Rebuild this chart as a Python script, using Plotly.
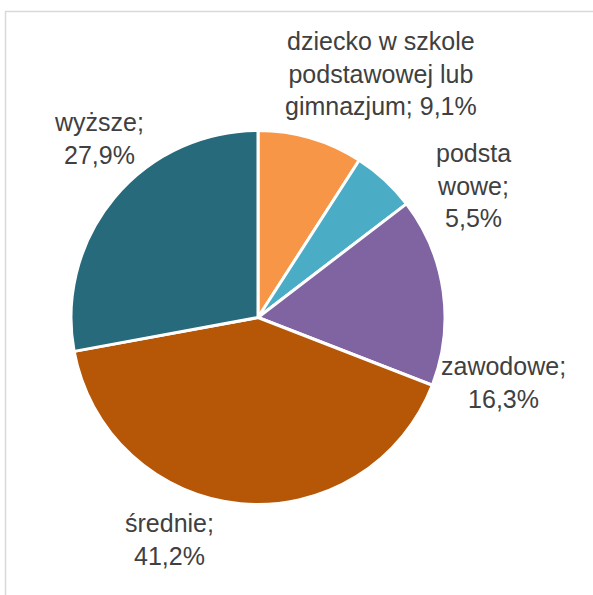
import plotly.graph_objects as go

categories = ["dziecko w szkole podstawowej lub gimnazjum", "podstawowe", "zawodowe", "średnie", "wyższe"]
label_text = ["dziecko w szkole<br>podstawowej lub<br>gimnazjum;", "podsta<br>wowe;<br>", "zawodowe;<br>", "średnie;<br>", "wyższe;<br>"]
values = [9.1, 5.5, 16.3, 41.2, 27.9]
colors = ["#F79646", "#4BACC6", "#8064A2", "#B65708", "#266A7C"]

W, H = 593, 595
# label centres in pixels
label_pos = [(381, 73), (473, 185), (503, 382), (169, 539), (99, 138)]

def pct(v):
    return f"{v:.1f}".replace(".", ",") + "%"

fig = go.Figure(go.Pie(
    labels=categories,
    values=values,
    sort=False,
    direction="clockwise",
    rotation=0,
    marker=dict(colors=colors, line=dict(color="white", width=3)),
    textinfo="none",
    hoverinfo="label+percent",
    showlegend=False,
    domain=dict(x=[71 / W, 445 / W], y=[1 - 505 / H, 1 - 130 / H]),
))

annotations = []
for txt, v, (px, py) in zip(label_text, values, label_pos):
    sep = "" if txt.endswith("<br>") else " "
    annotations.append(dict(
        x=px / W, y=1 - py / H, xref="paper", yref="paper",
        text=txt + sep + pct(v), showarrow=False,
        xanchor="center", yanchor="middle", align="center",
        font=dict(family="Liberation Sans, Arial", size=25, color="#404040"),
    ))

fig.update_layout(
    width=W, height=H,
    margin=dict(l=0, r=0, t=0, b=0),
    paper_bgcolor="white", plot_bgcolor="white",
    annotations=annotations,
    shapes=[dict(type="rect", xref="paper", yref="paper",
                 x0=5.5 / W, x1=1.02, y0=-0.02, y1=1 - 11.5 / H,
                 line=dict(color="#D9D9D9", width=1.5), fillcolor="rgba(0,0,0,0)")],
)

fig.write_html("out.html", config={"displayModeBar": False},
               post_script="document.body.style.margin='0px';document.body.style.overflow='hidden';")
